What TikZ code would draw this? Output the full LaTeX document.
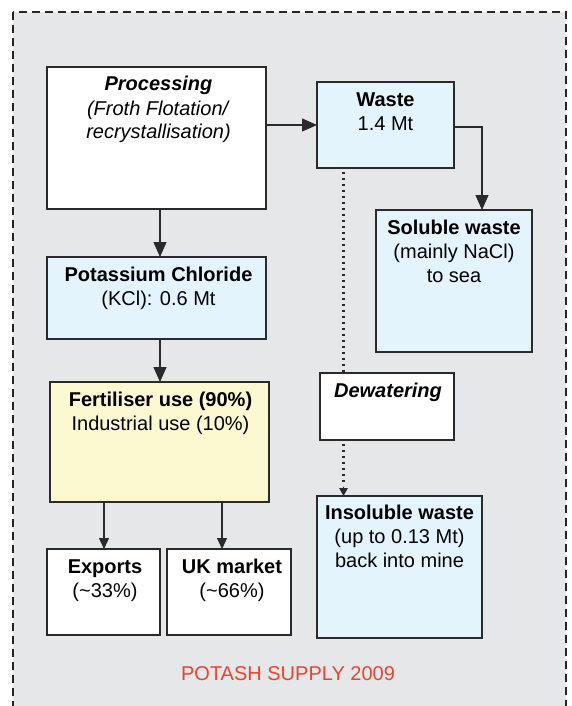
\documentclass[tikz,border=0pt]{standalone}
\usepackage{fontspec}
\setmainfont{Liberation Sans}
\usetikzlibrary{arrows.meta}
\definecolor{bggray}{HTML}{E6E7E9}
\definecolor{lblue}{HTML}{E4F4FC}
\definecolor{lyellow}{HTML}{FCF8CF}
\definecolor{titlered}{HTML}{EC4330}
\definecolor{edgegray}{HTML}{2A2A2A}
\tikzset{
  box/.style={draw=edgegray, line width=1.2pt, inner sep=0pt, outer sep=0pt, rectangle},
  txt/.style={anchor=north, inner sep=0pt, outer sep=0pt, align=center, font=\fontsize{20}{24}\selectfont},
  arr/.style={draw=edgegray, line width=1.2pt, -{Triangle[length=15pt,width=13pt]}},
  arrsmall/.style={draw=edgegray, line width=1.2pt, -{Triangle[length=11pt,width=10pt]}},
  dotline/.style={draw=edgegray, line width=2.2pt, line cap=butt, dash pattern=on 2.2pt off 3.8pt},
  frame/.style={draw=black!85, line width=1.3pt, dash pattern=on 8pt off 5pt, fill=bggray}
}
\begin{document}
\begin{tikzpicture}[x=1pt,y=-1pt]
\useasboundingbox (0,0) rectangle (571,706);
\clip (0,0) rectangle (571,706);
\draw[frame] (13,12) rectangle (566,740);

% boxes
\node[box, fill=white, minimum width=219pt, minimum height=142pt] (proc) at (156.5,138) {};
\node[box, fill=lblue, minimum width=137pt, minimum height=86pt] (waste) at (385.5,125) {};
\node[box, fill=lblue, minimum width=156pt, minimum height=142pt] (sol) at (454,281) {};
\node[box, fill=lblue, minimum width=219pt, minimum height=82pt] (kcl) at (156.5,298) {};
\node[box, fill=lyellow, minimum width=219pt, minimum height=120pt] (fert) at (159.5,442) {};
\node[box, fill=white, minimum width=134pt, minimum height=67pt] (dew) at (387,406.5) {};
\node[box, fill=lblue, minimum width=165pt, minimum height=142pt] (ins) at (399.5,567) {};
\node[box, fill=white, minimum width=113pt, minimum height=86pt] (exp) at (103.5,592) {};
\node[box, fill=white, minimum width=124pt, minimum height=86pt] (uk) at (229,592) {};

% texts
\node[txt] (tproc) at ([xshift=2pt,yshift=-7.2pt]proc.north) {\strut\textbf{\textit{Processing}}\\\strut\textit{(Froth Flotation/}\\\strut\textit{recrystallisation)}};
\node[txt] (twaste) at ([yshift=-7.2pt]waste.north) {\strut\textbf{Waste}\\\strut 1.4 Mt};
\node[txt] (tsol) at ([yshift=-7.2pt]sol.north) {\strut\textbf{Soluble waste}\\\strut(mainly NaCl)\\\strut to sea};
\node[txt] (tkcl) at ([xshift=2pt,yshift=-7.2pt]kcl.north) {\strut\textbf{Potassium Chloride}\\\strut(KCl): 0.6 Mt};
\node[txt] (tfert) at ([xshift=1pt,yshift=-7.2pt]fert.north) {\strut\textbf{Fertiliser use (90\%)}\\\strut Industrial use (10\%)};
\node[txt] (tdew) at ([xshift=1pt,yshift=-7.2pt]dew.north) {\strut\textbf{\textit{Dewatering}}};
\node[txt] (tins) at ([yshift=-6.5pt]ins.north) {\strut\textbf{Insoluble waste}\\\strut(up to 0.13 Mt)\\\strut back into mine};
\node[txt] (texp) at ([xshift=1.5pt,yshift=-7.2pt]exp.north) {\strut\textbf{Exports}\\\strut(\textasciitilde 33\%)};
\node[txt] (tuk) at ([xshift=3pt,yshift=-7.2pt]uk.north) {\strut\textbf{UK market}\\\strut(\textasciitilde 66\%)};

\node[anchor=base, inner sep=0pt, text=titlered, font=\fontsize{20}{24}\selectfont] (title) at (288,680.5) {POTASH SUPPLY 2009};

% helper coordinates
\coordinate (cx) at (160,0);
\coordinate (dx) at (343.5,0);
\coordinate (ex) at (104,0);
\coordinate (ux) at (222,0);

% connectors
\draw[arr] (proc.east |- waste.west) -- (waste.west);
\draw[arr] ([yshift=-2pt]waste.east) -| ([xshift=28pt]sol.north);
\draw[arr] (proc.south -| cx) -- (kcl.north -| cx);
\draw[arr] (kcl.south -| cx) -- (fert.north -| cx);
\draw[arrsmall] (fert.south -| ex) -- (exp.north -| ex);
\draw[arrsmall] (fert.south -| ux) -- (uk.north -| ux);
\draw[dotline] ([yshift=-4pt]waste.south -| dx) -- (dew.north -| dx);
\draw[dotline] ([yshift=-4pt]dew.south -| dx) -- ([yshift=10pt]ins.north -| dx);
\draw[draw=edgegray, line width=1.2pt, -{Triangle[length=8pt,width=8.5pt]}] ([yshift=9pt]ins.north -| dx) -- (ins.north -| dx);
\end{tikzpicture}
\end{document}
